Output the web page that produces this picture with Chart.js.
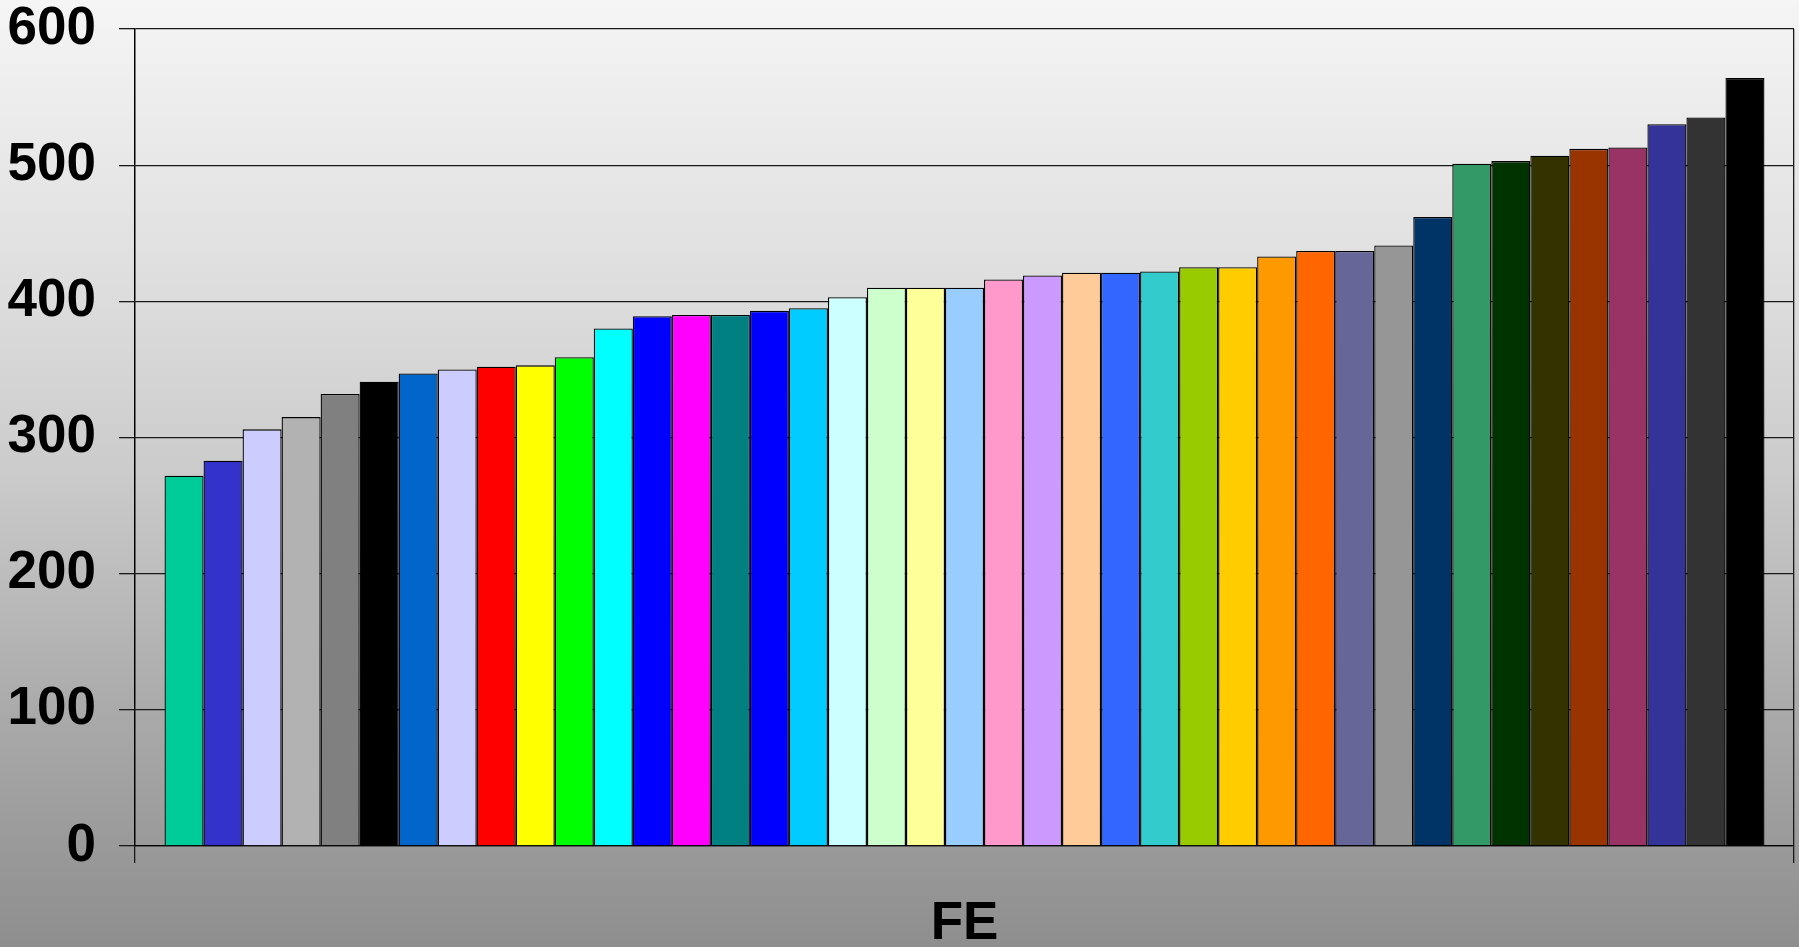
<!DOCTYPE html>
<html>
<head>
<meta charset="utf-8">
<script src="https://cdn.jsdelivr.net/npm/chart.js@4/dist/chart.umd.min.js"></script>
<style>
  body { margin: 0; }
</style>
</head>
<body>
<canvas id="chart" width="1799" height="947"></canvas>
<script>
const categories = ['FE'];
const values = [272, 283, 306, 315, 332, 341, 347, 350, 352, 353,
  359, 380, 389, 390, 390, 393, 395, 403, 410, 410,
  410, 416, 419, 421, 421, 422, 425, 425, 433, 437,
  437, 441, 462, 501, 503, 507, 512, 513, 530, 535, 564];
const colors = ['#00CC99', '#3333CC', '#CCCCFF', '#B2B2B2', '#808080', '#000000', '#0066CC', '#CCCCFF', '#FF0000', '#FFFF00',
  '#00FF00', '#00FFFF', '#0000FF', '#FF00FF', '#008080', '#0000FF', '#00CCFF', '#CCFFFF', '#CCFFCC', '#FFFF99',
  '#99CCFF', '#FF99CC', '#CC99FF', '#FFCC99', '#3366FF', '#33CCCC', '#99CC00', '#FFCC00', '#FF9900', '#FF6600',
  '#666699', '#969696', '#003366', '#339966', '#003300', '#333300', '#993300', '#993366', '#333399', '#333333', '#000000'];
const yTicks = [0, 100, 200, 300, 400, 500, 600];

const createGradient = (ctx, height) => {
  const gradient = ctx.createLinearGradient(0, 0, 0, height);
  gradient.addColorStop(0, '#f5f5f5');
  gradient.addColorStop(0.3, '#dedede');
  gradient.addColorStop(0.5, '#cbcbcb');
  gradient.addColorStop(0.75, '#aaaaaa');
  gradient.addColorStop(1, '#8e8e8e');
  return gradient;
};

// grey background behind everything
const background = {
  id: 'background',
  beforeDraw(chart) {
    const ctx = chart.ctx;
    ctx.save();
    ctx.fillStyle = createGradient(ctx, chart.height);
    ctx.fillRect(0, 0, chart.width, chart.height);
    ctx.restore();
  }
};

const font = { family: '"Liberation Sans", Arial, sans-serif', size: 53, weight: 'bold' };

const ctx = document.getElementById('chart').getContext('2d');
new Chart(ctx, {
  type: 'bar',
  data: {
    labels: categories,
    datasets: values.map((v, i) => ({
      data: [v],
      backgroundColor: colors[i],
      borderColor: '#000000',
      borderWidth: 1.3,
      barPercentage: 1,
      categoryPercentage: 0.9644,
    })),
  },
  options: {
    responsive: false,
    animation: false,
    layout: { padding: { top: 29, right: 5, left: 0, bottom: 0 } },
    plugins: {
      legend: { display: false },
      tooltip: { enabled: false },
    },
    scales: {
      x: {
        grid: { offset: true, color: '#1a1a1a', lineWidth: 1.3, tickLength: 17 },
        border: { color: '#000000', width: 1.3 },
        ticks: { font: font, color: '#000000', padding: 30 },
        afterFit: (scale) => { scale.height = 101; },
      },
      y: {
        min: 0,
        max: 600,
        afterBuildTicks: (scale) => { scale.ticks = yTicks.map(v => ({ value: v })); },
        grid: { color: '#1a1a1a', lineWidth: 1.3, tickLength: 16 },
        border: { color: '#000000', width: 1.3 },
        ticks: { font: font, color: '#000000', padding: 23 },
        afterFit: (scale) => { scale.width = 135; scale.paddingTop = 0; scale.paddingBottom = 0; },
      },
    },
  },
  plugins: [background],
});
</script>
</body>
</html>
